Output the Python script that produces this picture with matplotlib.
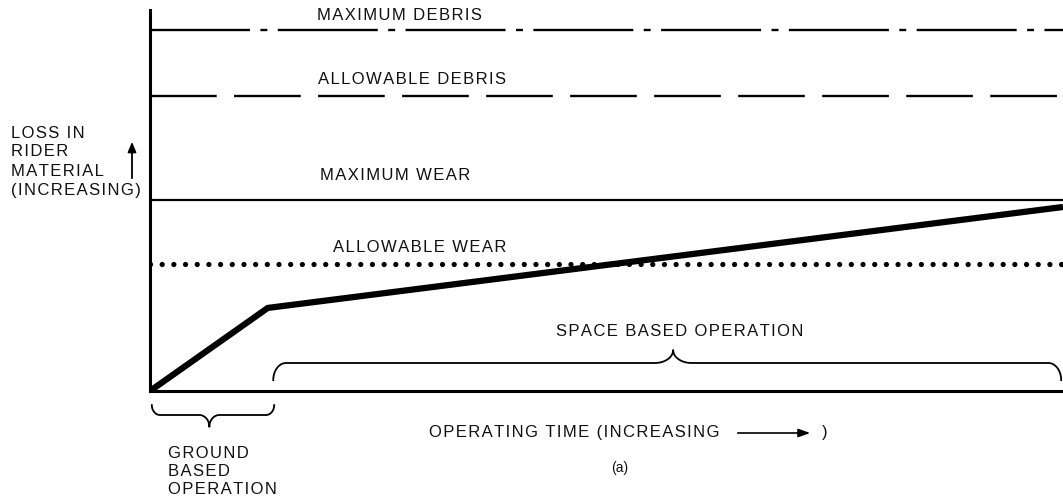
import numpy as np
import matplotlib
matplotlib.use("Agg")
import matplotlib.pyplot as plt

plt.rcParams['font.family'] = ['Liberation Sans', 'DejaVu Sans']
plt.rcParams['lines.scale_dashes'] = False

# schematic data (arbitrary units, 0-100 on both axes)
limit_names = ['MAXIMUM DEBRIS', 'ALLOWABLE DEBRIS', 'MAXIMUM WEAR', 'ALLOWABLE WEAR']
limit_levels = [94.8, 77.4, 50.1, 33.3]
wear_time = [0.0, 12.9, 100.0]
wear_loss = [0.0, 21.8, 48.3]
ground_span = [0.2, 13.6]
space_span = [13.5, 99.8]

W, H = 1063, 501
fig = plt.figure(figsize=(W / 100, H / 100), dpi=100)
ax = fig.add_axes([150 / W, (H - 391) / H, 913 / W, 381 / H])
ax.set_xlim(0, 100)
ax.set_ylim(0, 100)
for s in ['top', 'right']:
    ax.spines[s].set_visible(False)
for s in ['left', 'bottom']:
    ax.spines[s].set_linewidth(2.2)
ax.set_xticks([])
ax.set_yticks([])


def spaced(s):
    return '\u200a'.join(s)


def px(x, y):
    return (x / W, 1 - y / H)


# limit lines
styles = [
    dict(lw=1.7, dashes=(72, 7.5, 5, 7.5)),
    dict(lw=1.7, dashes=(48, 12.5)),
    dict(lw=1.6, linestyle='-'),
    dict(lw=3.8, linestyle=(0, (0.01, 8.4)), dash_capstyle='round'),
]
for lvl, st in zip(limit_levels, styles):
    ax.plot([0, 100], [lvl, lvl], color='black', solid_capstyle='butt', **st)

# wear curve
ax.plot(wear_time, wear_loss, color='black', lw=4.5, solid_joinstyle='miter',
        solid_capstyle='butt')


def draw_brace(x0, x1, xm, yb, d, p, rx, rm):
    t = np.linspace(0, np.pi / 2, 20)
    # left end curl
    lx = x0 + rx - rx * np.cos(t)
    ly = yb - d + d * np.sin(t)
    # left middle rise
    mx = xm - rm + rm * np.sin(t)
    my = yb + p * (1 - np.cos(t))
    # right side mirrored
    rmx = xm + rm - rm * np.sin(t[::-1])
    rmy = yb + p * (1 - np.cos(t[::-1]))
    rex = x1 - rx + rx * np.cos(t[::-1])
    rey = yb - d + d * np.sin(t[::-1])
    xs = np.concatenate([lx, mx, rmx, rex])
    ys = np.concatenate([ly, my, rmy, rey])
    ax.plot(xs, ys, color='black', lw=1.3, clip_on=False)


draw_brace(space_span[0], space_span[1], 57.3, 7.35, 4.5, 3.4, 1.4, 2.0)
draw_brace(ground_span[0], ground_span[1], 6.5, -6.3, -2.6, -3.1, 0.9, 1.1)

fs = 12
ax_text = dict(fontsize=fs, color='#111111', va='center')
label_pos = [(317, 15), (318, 79), (320, 175), (333, 248)]
for name, (x, y) in zip(limit_names, label_pos):
    fig.text(*px(x, y), spaced(name), ha='left', **ax_text)

fig.text(*px(556, 332), spaced('SPACE BASED OPERATION'), ha='left', **ax_text)

ylab = ['LOSS IN', 'RIDER', 'MATERIAL', '(INCREASING)']
for i, s in enumerate(ylab):
    fig.text(*px(11, 133 + 19 * i), spaced(s), ha='left', **ax_text)
fig.add_artist(matplotlib.patches.FancyArrowPatch(
    px(132, 181), px(132, 139), transform=fig.transFigure,
    arrowstyle='-|>,head_length=6,head_width=2.5', lw=1.3, color='black'))

glab = ['GROUND', 'BASED', 'OPERATION']
for i, s in enumerate(glab):
    fig.text(*px(168, 453 + 18.5 * i), spaced(s), ha='left', **ax_text)

fig.text(*px(429, 433), spaced('OPERATING TIME (INCREASING'), ha='left', **ax_text)
fig.add_artist(matplotlib.patches.FancyArrowPatch(
    px(735, 433), px(813, 433), transform=fig.transFigure,
    arrowstyle='-|>,head_length=7,head_width=2.5', lw=1.2, color='black'))
fig.text(*px(822, 433), ')', ha='left', **ax_text)
fig.text(*px(611, 468), '(a)', ha='left', fontsize=10, color='#111111', va='center')

fig.savefig('out.png', dpi=100)
